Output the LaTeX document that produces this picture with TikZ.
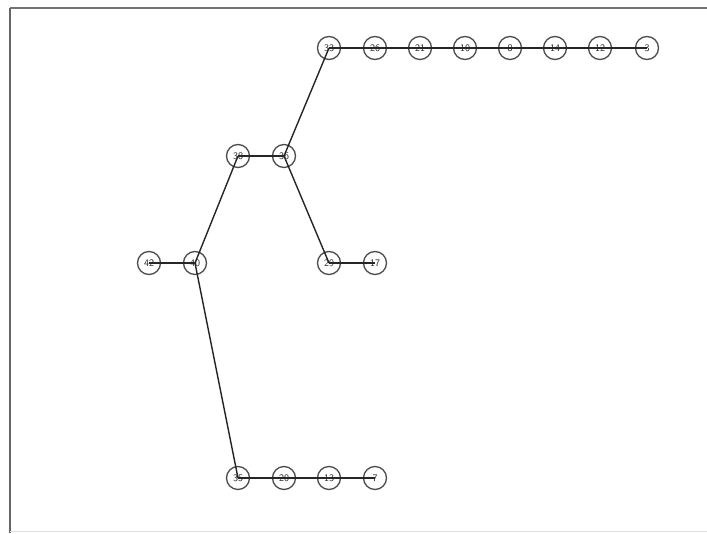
\documentclass[tikz,border=0pt]{standalone}
\usepackage{tikz}
\begin{document}
\begin{tikzpicture}[x=1pt,y=-1pt,
  vtx/.style={circle,draw=black!70,line width=1.3pt,minimum size=23pt,inner sep=0pt,font=\fontsize{10}{10}\selectfont\sffamily,text=black!85},
  edge/.style={draw=black!85,line width=1.4pt}]
\useasboundingbox (0,0) rectangle (707,533);
\fill[white] (0,0) rectangle (707,533);
% frame
\draw[black!55,line width=1.6pt] (10,8) -- (707,8);
\draw[black!60,line width=1.6pt] (10,8) -- (10,533);
\draw[black!12,line width=1pt] (10,531) -- (707,531);
% nodes
\node[vtx] (n33) at (329,48) {33};
\node[vtx] (n26) at (375,48) {26};
\node[vtx] (n21) at (420,48) {21};
\node[vtx] (n10) at (465,48) {10};
\node[vtx] (n8)  at (510,48) {8};
\node[vtx] (n14) at (555,48) {14};
\node[vtx] (n12) at (600,48) {12};
\node[vtx] (n3)  at (647,48) {3};
\node[vtx] (n38) at (238,156) {38};
\node[vtx] (n36) at (284,156) {36};
\node[vtx] (n42) at (149,263) {42};
\node[vtx] (n40) at (195,263) {40};
\node[vtx] (n29) at (329,263) {29};
\node[vtx] (n17) at (375,263) {17};
\node[vtx] (n35) at (238,478) {35};
\node[vtx] (n20) at (284,478) {20};
\node[vtx] (n13) at (329,478) {13};
\node[vtx] (n7)  at (375,478) {7};
% edges
\path[edge] (n33.center) -- (n26.center) -- (n21.center) -- (n10.center) -- (n8.center) -- (n14.center) -- (n12.center) -- (n3.center);
\path[edge] (n33.center) -- (n36.center);
\path[edge] (n38.center) -- (n36.center);
\path[edge] (n38.center) -- (n40.center);
\path[edge] (n42.center) -- (n40.center);
\path[edge] (n36.center) -- (n29.center);
\path[edge] (n29.center) -- (n17.center);
\path[edge] (n40.center) -- (n35.center);
\path[edge] (n35.center) -- (n20.center) -- (n13.center) -- (n7.center);
\end{tikzpicture}
\end{document}
